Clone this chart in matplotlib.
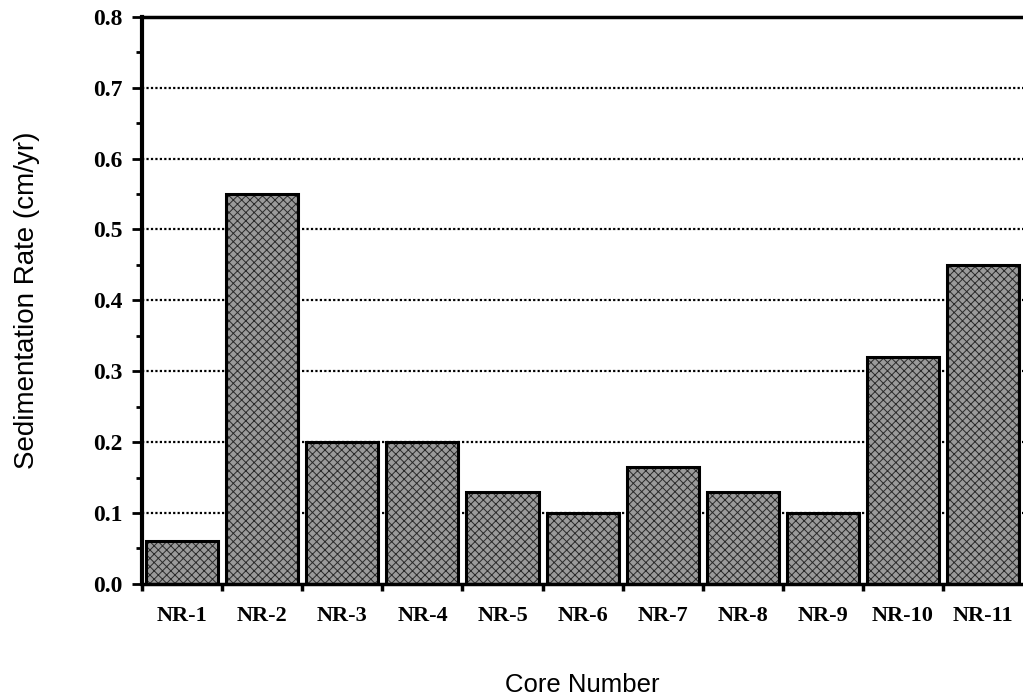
import numpy as np
import matplotlib.pyplot as plt
from matplotlib.ticker import MultipleLocator

cores = ["NR-1", "NR-2", "NR-3", "NR-4", "NR-5", "NR-6", "NR-7", "NR-8", "NR-9", "NR-10", "NR-11"]
rates = [0.06, 0.55, 0.20, 0.20, 0.13, 0.10, 0.165, 0.13, 0.10, 0.32, 0.45]

plt.rcParams['hatch.linewidth'] = 0.7

fig = plt.figure(figsize=(10.23, 6.96), dpi=100)
ax = fig.add_axes([0.139, 0.161, 0.861, 0.815])

x = np.arange(len(cores))
# stippled grey fill, then black outline on top
ax.bar(x, rates, width=0.9, color="#9a9a9a", edgecolor="#2a2a2a", hatch="xxxx", linewidth=0, zorder=2)
ax.bar(x, rates, width=0.9, fill=False, edgecolor="black", linewidth=2.2, zorder=3)

ax.set_xlim(-0.5, len(cores) - 0.5)
ax.set_ylim(0, 0.8)

# dotted gridlines
for yv in np.arange(0.1, 0.75, 0.1):
    ax.axhline(yv, color="black", linestyle=(0, (1, 1)), linewidth=1.6, zorder=1)
ax.axhline(0.8, color="black", linewidth=2.5, zorder=4, clip_on=False)

ax.spines["right"].set_visible(False)
ax.spines["top"].set_visible(False)
ax.spines["left"].set_linewidth(3)
ax.spines["bottom"].set_linewidth(2.5)

ax.yaxis.set_minor_locator(MultipleLocator(0.05))
ax.tick_params(axis="y", which="major", direction="out", length=7, width=2, pad=7)
ax.tick_params(axis="y", which="minor", direction="out", length=4, width=2)
ax.set_yticks(np.arange(0, 0.81, 0.1))
ax.set_yticklabels(["%.1f" % v for v in np.arange(0, 0.81, 0.1)],
                   fontfamily="Liberation Serif", fontweight="bold", fontsize=17)

ax.set_xticks(x)
ax.set_xticklabels(cores, fontfamily="Liberation Serif", fontweight="bold", fontsize=16)
ax.tick_params(axis="x", which="major", length=0, pad=16)
ax.set_xticks(np.append(-0.5, x[:-1] + 0.5), minor=True)
ax.tick_params(axis="x", which="minor", direction="out", length=5, width=2.5)

ax.set_xlabel("Core Number", fontfamily="Liberation Sans", fontsize=18.5, labelpad=34)
ax.set_ylabel("Sedimentation Rate (cm/yr)", fontfamily="Liberation Sans", fontsize=20, labelpad=38)

fig.savefig("out.png", dpi=100)
